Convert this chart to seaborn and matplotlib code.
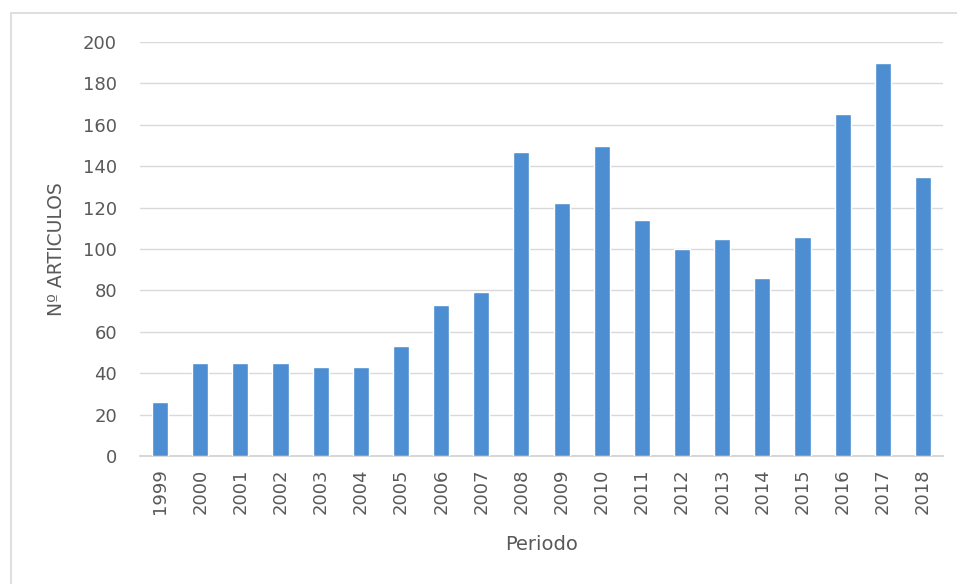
import matplotlib
matplotlib.use("Agg")
import matplotlib.pyplot as plt
import seaborn as sns
import pandas as pd
from matplotlib.patches import Rectangle

years = ["1999", "2000", "2001", "2002", "2003", "2004", "2005", "2006", "2007", "2008",
         "2009", "2010", "2011", "2012", "2013", "2014", "2015", "2016", "2017", "2018"]
articles = [26, 45, 45, 45, 43, 43, 53, 73, 79, 147,
            122, 150, 114, 100, 105, 86, 106, 165, 190, 135]
y_ticks = [0, 20, 40, 60, 80, 100, 120, 140, 160, 180, 200]

df = pd.DataFrame({"Periodo": years, "Articulos": articles})

sns.set_theme(style="white")
plt.rcParams["font.family"] = ["DejaVu Sans"]

text_color = "#595959"
fig = plt.figure(figsize=(9.57, 5.84), dpi=100)
ax = fig.add_axes([140 / 957, 1 - 456 / 584, (943 - 140) / 957, (456 - 42) / 584])

sns.barplot(data=df, x="Periodo", y="Articulos", color="#4d8ed3", width=0.4,
            saturation=1, ax=ax, zorder=3)

ax.set_ylim(0, 200)
ax.set_yticks(y_ticks)
ax.set_xlim(-0.5, len(years) - 0.5)
ax.yaxis.grid(True, color="#d9d9d9", linewidth=1, zorder=0)
ax.set_axisbelow(True)
for s in ["top", "right", "left"]:
    ax.spines[s].set_visible(False)
ax.spines["bottom"].set_color("#d0d0d0")
ax.spines["bottom"].set_linewidth(1.2)

ax.tick_params(axis="both", length=0, colors=text_color, labelsize=13)
ax.tick_params(axis="y", pad=16.5)
ax.tick_params(axis="x", pad=9)
plt.setp(ax.get_xticklabels(), rotation=90)

ax.set_xlabel("Periodo", color=text_color, fontsize=14)
ax.set_ylabel("Nº ARTICULOS", color=text_color, fontsize=13.5)
ax.xaxis.set_label_coords(0.5, -0.19)
ax.yaxis.set_label_coords(-0.092, 0.5)

# outer chart border (extends off the right and bottom edges)
fig.patches.append(Rectangle((11 / 957, -0.05), 1.2, 1 - 13 / 584 + 0.05,
                             transform=fig.transFigure, fill=False,
                             edgecolor="#d9d9d9", linewidth=1.2))

fig.savefig("out.png", dpi=100, facecolor="white")
